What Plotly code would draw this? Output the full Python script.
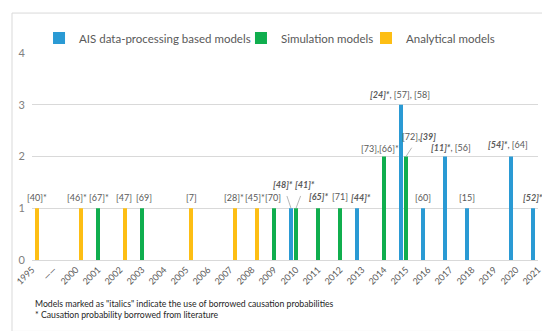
import plotly.graph_objects as go

# ---------------- data ----------------
categories = ["1995", "——", "2000", "2001", "2002", "2003", "2004", "2005", "2006",
              "2007", "2008", "2009", "2010", "2011", "2012", "2013", "2014", "2015",
              "2016", "2017", "2018", "2019", "2020", "2021"]

series_names = ["AIS data-processing based models", "Simulation models", "Analytical models"]

ais_years = ["2010", "2013", "2015", "2016", "2017", "2018", "2020", "2021"]
ais_values = [1, 1, 3, 1, 2, 1, 2, 1]
ais_labels = ["<b><i>[48]*</i></b>", "<b><i>[44]*</i></b>",
              "<b><i>[24]*</i></b>, [57], [58]", "[60]",
              "<b><i>[11]*</i></b>, [56]", "[15]",
              "<b><i>[54]*</i></b>, [64]", "<b><i>[52]*</i></b>"]

sim_years = ["2001", "2003", "2009", "2010", "2011", "2012", "2014", "2015"]
sim_values = [1, 1, 1, 1, 1, 1, 2, 2]
sim_labels = ["[67]*", "[69]", "[70]", "<b><i>[41]*</i></b>", "<b><i>[65]*</i></b>",
              "[71]", "[73],[66]*", "[72],<b><i>[39]</i></b>"]

ana_years = ["1995", "2000", "2002", "2005", "2007", "2008"]
ana_values = [1, 1, 1, 1, 1, 1]
ana_labels = ["[40]*", "[46]*", "[47]", "[7]", "[28]*", "[45]*"]

footnotes = ['Models marked as "italics" indicate the use of borrowed causation probabilities',
             '* Causation probability borrowed from literature']

# ---------------- styling ----------------
colors = ["#2A9AD4", "#10AE4E", "#FDBE14"]
slot = 5 / 22.0                      # offset of each series within a category
series_offsets = [-slot, 0.0, slot]
legend_x = [0.0564, 0.4236, 0.6509]   # container fractions
# label pixel offsets (dx, dy above bar top, leader line?)
ais_label_style = [(-8, 24, True), (4, 11, False), (-1, 10, False), (0, 11, False),
                   (6, 9, False), (0, 11, False), (-3, 12, False), (0, 11, False)]
sim_label_style = [(1, 11, False), (2, 11, False), (-1, 11, False), (9, 24, True),
                   (0, 12, False), (0, 12, False), (-4, 8, False), (13, 20, True)]
ana_label_style = [(0, 11, False), (-4, 11, False), (-1, 11, False), (0, 11, False),
                   (-1, 11, False), (-2, 11, False)]

FONT = "Lato"
TXT = "#595959"
GRID = "#D9D9D9"

idx = {c: i for i, c in enumerate(categories)}

fig = go.Figure()
all_series = [
    (ais_years, ais_values, ais_labels, ais_label_style),
    (sim_years, sim_values, sim_labels, sim_label_style),
    (ana_years, ana_values, ana_labels, ana_label_style),
]
legend_ids = ["legend", "legend2", "legend3"]
for k, (yrs, vals, labs, sty) in enumerate(all_series):
    xs = [idx[y] for y in yrs]
    fig.add_trace(go.Bar(
        x=xs, y=vals, name=series_names[k], legend=legend_ids[k],
        marker=dict(color=colors[k], line=dict(width=0)),
        hoverinfo="skip",
    ))

annotations = []
for k, (yrs, vals, labs, sty) in enumerate(all_series):
    for y, v, lab, (dx, dy, lead) in zip(yrs, vals, labs, sty):
        xb = idx[y] + series_offsets[k]
        if lead:
            annotations.append(dict(
                x=xb, y=v, xref="x", yref="y", text=lab, showarrow=True,
                ax=dx, ay=-dy, arrowhead=0, arrowwidth=0.8, arrowcolor="#A6A6A6",
                standoff=0, startstandoff=5,
                font=dict(family=FONT, size=9, color=TXT),
            ))
        else:
            annotations.append(dict(
                x=xb, y=v, xref="x", yref="y", text=lab, showarrow=False,
                xshift=dx, yshift=dy, yanchor="middle",
                font=dict(family=FONT, size=9, color=TXT),
            ))

for j, t in enumerate(footnotes):
    annotations.append(dict(
        x=0.002, y=-0.21 - j * 0.053, xref="paper", yref="paper", text=t,
        showarrow=False, xanchor="left", yanchor="middle",
        font=dict(family=FONT, size=8.7, color="#262626"),
    ))

leg_common = dict(orientation="h", xref="container", yref="container",
                  y=1 - 30 / 331, yanchor="middle", xanchor="left",
                  font=dict(family=FONT, size=11.5, color=TXT),
                  itemwidth=30, bgcolor="rgba(0,0,0,0)")
fig.update_layout(
    width=550, height=331,
    margin=dict(l=24, r=20, t=45, b=78.5, autoexpand=False),
    paper_bgcolor="white", plot_bgcolor="white",
    barmode="group", bargap=1 - 3 * slot, bargroupgap=0.2,
    showlegend=True,
    legend=dict(x=legend_x[0], **leg_common),
    legend2=dict(x=legend_x[1], **leg_common),
    legend3=dict(x=legend_x[2], **leg_common),
    font=dict(family=FONT, color=TXT),
    annotations=annotations,
    shapes=[dict(type="rect", xref="paper", yref="paper",
                 x0=-0.0395, x1=1.0277, y0=-0.345, y1=1.193,
                 line=dict(color=GRID, width=1), fillcolor="rgba(0,0,0,0)", layer="below")],
)
fig.update_xaxes(
    range=[0, len(categories) - 1], tickmode="array",
    tickvals=list(range(len(categories))), ticktext=categories,
    tickangle=-45, tickfont=dict(family=FONT, size=9, color=TXT),
    showgrid=False, zeroline=False, showline=True, linecolor=GRID, linewidth=1,
    ticks="", fixedrange=True, automargin=False,
)
fig.update_yaxes(
    range=[0, 4], dtick=1, tick0=0,
    tickfont=dict(family=FONT, size=11, color="#808080"),
    showgrid=True, gridcolor=GRID, gridwidth=1, zeroline=False, showline=False,
    ticks="", ticklabelstandoff=6, fixedrange=True, automargin=False,
)

fig.write_html("out.html")
